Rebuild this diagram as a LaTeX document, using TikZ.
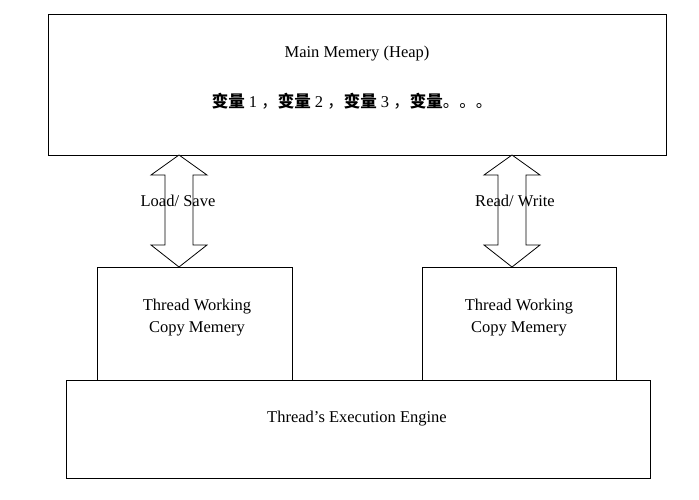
\documentclass[tikz,border=0pt]{standalone}
\usepackage{fontspec}
\setmainfont{Liberation Serif}
\newfontfamily\cjk{Noto Sans CJK SC}
\begin{document}
\begin{tikzpicture}[x=1pt,y=-1pt,
  box/.style={draw,line width=0.8pt,fill=white},
  lbl/.style={font=\fontsize{16.5}{22}\selectfont,align=center},
  dar/.style={draw,line width=0.8pt,fill=white}]
\useasboundingbox[fill=white] (0,0) rectangle (699,500);
\node[box,minimum width=618pt,minimum height=141pt,inner sep=0pt] (main) at (357,84.5) {};
\node[lbl] (mt) at (357,54) {Main Memery (Heap)};
\node[lbl] (vars) at (352,101) {{\cjk\bfseries 变量} 1 {\cjk ，}{\cjk\bfseries 变量} 2 {\cjk ，}{\cjk\bfseries 变量} 3 {\cjk ，}{\cjk\bfseries 变量}{\cjk 。。。}};
\node[box,minimum width=195pt,minimum height=113pt,inner sep=0pt] (t1) at (194.5,323.5) {};
\node[box,minimum width=194pt,minimum height=113pt,inner sep=0pt] (t2) at (519,323.5) {};
\node[lbl] (t1l) at (197,318) {Thread Working\\Copy Memery};
\node[lbl] (t2l) at (519,318) {Thread Working\\Copy Memery};
\node[box,minimum width=584pt,minimum height=98pt,inner sep=0pt] (eng) at (358,429) {};
\node[lbl] (engl) at (357,419) {Thread's Execution Engine};
\foreach \c/\n in {179/a1,512/a2}{
  \path[dar] (\c,155) -- (\c+28,175) -- (\c+14,175) -- (\c+14,245) -- (\c+28,245) -- (\c,267)
    -- (\c-28,245) -- (\c-14,245) -- (\c-14,175) -- (\c-28,175) -- cycle;
}
\node[lbl] (ls) at (178,201) {Load/ Save};
\node[lbl] (rw) at (515,201) {Read/ Write};
\end{tikzpicture}
\end{document}
